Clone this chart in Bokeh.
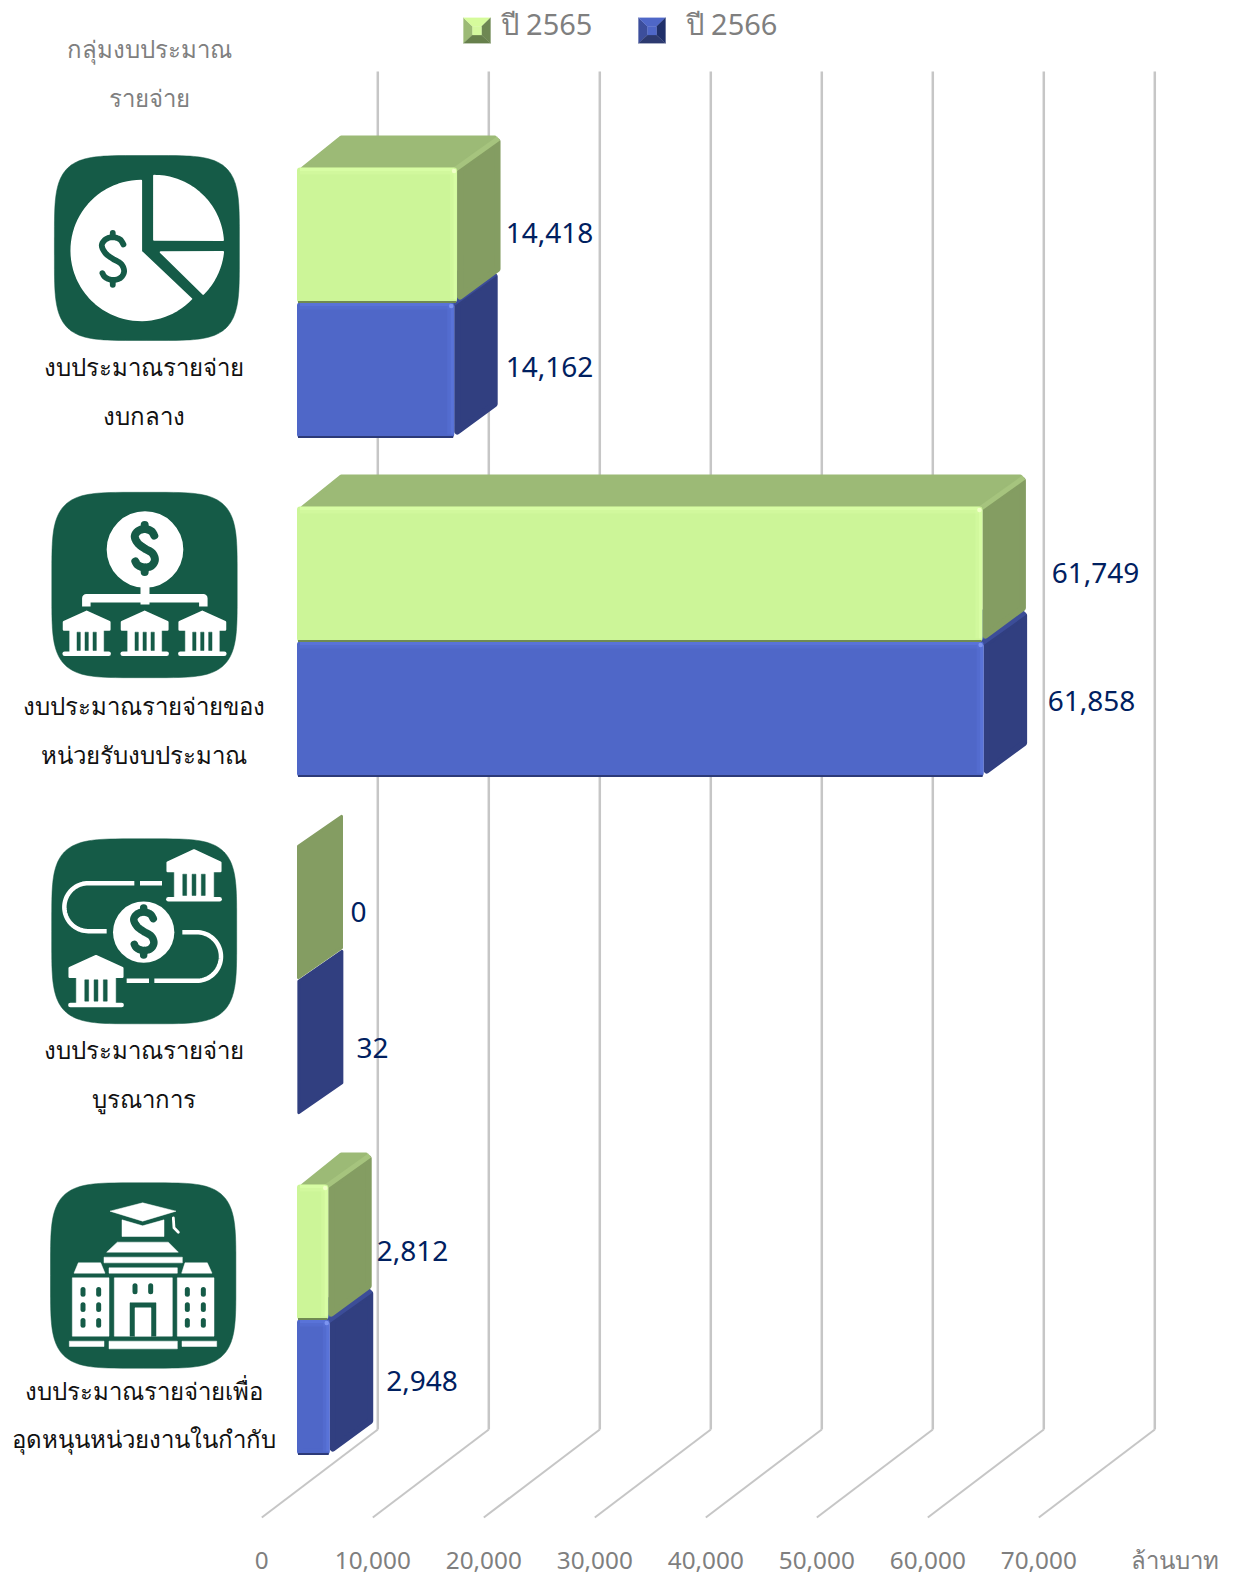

import math
from bokeh.plotting import figure
from bokeh.embed import file_html
from bokeh.resources import INLINE
from bokeh.models import Range1d, LinearAxis, FixedTicker, NumeralTickFormatter
from bokeh.core.properties import value

# ---------- data ----------
category_line1 = ["งบประมาณรายจ่าย", "งบประมาณรายจ่ายของ", "งบประมาณรายจ่าย", "งบประมาณรายจ่ายเพื่อ"]
category_line2 = ["งบกลาง", "หน่วยรับงบประมาณ", "บูรณาการ", "อุดหนุนหน่วยงานในกำกับ"]
series_names = ["ปี 2565", "ปี 2566"]
values_2565 = [14418, 61749, 0, 2812]
values_2566 = [14162, 61858, 32, 2948]
axis_ticks = [0, 10000, 20000, 30000, 40000, 50000, 60000, 70000]
axis_title_left = ["กลุ่มงบประมาณ", "รายจ่าย"]
axis_unit = "ล้านบาท"

# ---------- layout (reference pixels) ----------
W, H = 1238, 1575
S = 0.0111            # px per million baht
BACK0 = 377.3         # px of value 0 on the back wall
FRONT0 = 261.3        # px of value 0 on the floor's front edge
BAR0 = 296.5          # px of value 0 on a bar's front face
GRID_TOP, GRID_BACK, GRID_FRONT = 71, 1429, 1517
BAR_TOP0, BAR_PITCH, BAR_H = 167, 339, 135
DEPTH_Y = -32

GREEN = dict(front="#CCF598", top="#9CBA76", side="#849D62", hi="#DAFFA6", low="#6F8A52", edge="#A6C47E", spot="#F0FFC8")
BLUE = dict(front="#4F67C8", top="#4A5FB0", side="#313F80", hi="#5C76DC", low="#2C3A78", edge="#3C4D98", spot="#7C94F0")
ICON = "#155B47"
GREY = "#7F7F7F"
NAVY = "#002060"
GRID = "#C6C6C6"
SANS = value("Noto Sans")

p = figure(width=W, height=H, output_backend="svg", toolbar_location=None,
           x_range=Range1d((0 - BACK0) / S, (W - BACK0) / S),
           y_range=Range1d(H, 0),
           x_axis_location=None, y_axis_location=None,
           min_border=0, outline_line_color=None, background_fill_color="white",
           border_fill_color="white")
p.grid.visible = False
p.extra_x_ranges["px"] = Range1d(0, W)
p.extra_x_ranges["front"] = Range1d((0 - FRONT0) / S, (W - FRONT0) / S)


def off(px):
    """A px shift expressed in value units."""
    return px / S


# ---------- gridlines ----------
for t in axis_ticks:
    p.line([t, t], [GRID_TOP, GRID_BACK], line_color=GRID, line_width=2.5)
    p.line([t, t - off(BACK0 - FRONT0)], [GRID_BACK, GRID_FRONT], line_color=GRID, line_width=2)

# ---------- axis ----------
ax = LinearAxis(x_range_name="front", ticker=FixedTicker(ticks=axis_ticks),
                formatter=NumeralTickFormatter(format="0,0"), fixed_location=1551)
ax.axis_line_color = None
ax.major_tick_line_color = None
ax.minor_tick_line_color = None
ax.major_tick_in = 0
ax.major_tick_out = 0
ax.major_label_standoff = 0
ax.major_label_text_font = "Noto Sans"
ax.major_label_text_font_size = "24.3px"
ax.major_label_text_color = GREY
p.add_layout(ax, "below")


# ---------- bars ----------
def inset(xs, ys, r):
    """Shrink a convex polygon by r px (xs in value units)."""
    pts = [(x * S, y) for x, y in zip(xs, ys)]
    n = len(pts)
    area = sum(pts[i][0] * pts[(i + 1) % n][1] - pts[(i + 1) % n][0] * pts[i][1] for i in range(n))
    sg = 1 if area > 0 else -1
    lines = []
    for i in range(n):
        (x0, y0), (x1, y1) = pts[i], pts[(i + 1) % n]
        L = math.hypot(x1 - x0, y1 - y0) or 1
        nx, ny = -(y1 - y0) / L * sg, (x1 - x0) / L * sg
        lines.append((x0 + nx * r, y0 + ny * r, x1 - x0, y1 - y0))
    out = []
    for i in range(n):
        a, b = lines[i - 1], lines[i]
        d = a[2] * b[3] - a[3] * b[2]
        t = ((b[0] - a[0]) * b[3] - (b[1] - a[1]) * b[2]) / d
        out.append(((a[0] + a[2] * t) / S, a[1] + a[3] * t))
    return [q[0] for q in out], [q[1] for q in out]


def face(xs, ys, color, r=3):
    ix, iy = inset(xs, ys, r)
    p.patch(ix, iy, fill_color=color, line_color=color, line_width=2 * r, line_join="round")


def bar(i, row, v, c):
    base = off(BAR0 - BACK0)
    top = BAR_TOP0 + BAR_PITCH * i + row * BAR_H
    bot = top + BAR_H
    xr = base + v
    thin = v * S < 1
    dx = off(46 if thin else 43.5)
    # side
    face([xr, xr + dx, xr + dx, xr], [top, top + DEPTH_Y, bot + DEPTH_Y, bot], c["side"], 1.5 if thin else 3)
    if thin:
        return
    # top: its edges reach under the front face so that no notch shows at the left corner
    face([base, base + dx, xr + dx, xr], [top + 3, top + DEPTH_Y, top + DEPTH_Y, top + 3], c["top"], 2)
    p.line([xr - off(2), xr + dx - off(2)], [top + 2, top + DEPTH_Y + 3], line_color=c["edge"], line_width=5)
    # front with a soft bevel
    face([base, xr, xr, base], [top, top, bot, bot], c["front"])
    p.line([base + off(3), xr - off(3)], [top + 3.5, top + 3.5], line_color=c["hi"], line_width=7, line_alpha=0.35)
    p.line([base + off(3), xr - off(3)], [top + 2, top + 2], line_color=c["hi"], line_width=3, line_alpha=0.7)
    p.line([xr - off(3.5), xr - off(3.5)], [top + 3, bot - 3], line_color=c["hi"], line_width=7, line_alpha=0.35)
    p.line([xr - off(2), xr - off(2)], [top + 3, bot - 3], line_color=c["hi"], line_width=3, line_alpha=0.7)
    p.scatter([xr - off(3)], [top + 3.5], size=4.5, marker="circle", fill_color=c["spot"], line_color=None)
    p.line([base + off(1), xr - off(1)], [bot - 0.5, bot - 0.5], line_color=c["low"], line_width=2)


for i, (a, b) in enumerate(zip(values_2565, values_2566)):
    bar(i, 1, b, BLUE)
    bar(i, 0, a, GREEN)

# ---------- value labels ----------
label_x = [[549, 1095, 358, 412], [549, 1091, 372, 421.6]]
label_y = [[232.5, 572, 911, 1250], [366, 700, 1047, 1380.5]]
for k, vals in enumerate([values_2565, values_2566]):
    p.text(label_x[k], label_y[k], text=[f"{v:,}" for v in vals], x_range_name="px",
           text_color=NAVY, text_font=SANS, text_font_size="28px",
           text_align="center", text_baseline="middle")

# ---------- category labels ----------
cat_x = 143.5
cat_y1 = [366, 705, 1049, 1390]
cat_y2 = [414.5, 754, 1098, 1438]
p.text([cat_x] * 4, cat_y1, text=category_line1, x_range_name="px", text_color="#111111", text_font=SANS,
       text_font_size="24px", text_align="center", text_baseline="middle")
p.text([cat_x] * 4, cat_y2, text=category_line2, x_range_name="px", text_color="#111111", text_font=SANS,
       text_font_size="24px", text_align="center", text_baseline="middle")
p.text([149, 149], [48, 97], text=axis_title_left, x_range_name="px", text_color=GREY, text_font=SANS,
       text_font_size="24px", text_align="center", text_baseline="middle")
p.text([1174.5], [1558.5], text=[axis_unit], x_range_name="px", text_color=GREY, text_font=SANS,
       text_font_size="24px", text_align="center", text_baseline="middle")

# ---------- legend ----------
def swatch(x0, colors, cx0, cx1):
    y0, y1 = 17.3, 42.7
    x1 = x0 + 27
    cy0, cy1 = 26, 34.5
    pts = {"l": ([x0, cx0, cx0, x0], [y0, cy0, cy1, y1]),
           "t": ([x0, x1, cx1, cx0], [y0, y0, cy0, cy0]),
           "r": ([x1, x1, cx1, cx1], [y0, y1, cy1, cy0]),
           "b": ([x0, x1, cx1, cx0], [y1, y1, cy1, cy1]),
           "c": ([cx0, cx1, cx1, cx0], [cy0, cy0, cy1, cy1])}
    for k, (xs, ys) in pts.items():
        p.patch(xs, ys, fill_color=colors[k], line_color=colors[k], line_width=0.3, x_range_name="px")


swatch(463, dict(l="#9CBA76", t="#D6FB9C", r="#6E8752", b="#67804C", c="#D4F89E"), 472, 481)
swatch(638, dict(l="#3C4E9C", t="#4F67C8", r="#20306A", b="#2D3A70", c="#4F67C8"), 647, 656)
p.text([500, 685], [23, 23], text=series_names, x_range_name="px", text_color=GREY, text_font=SANS,
       text_font_size="29px", text_align="left", text_baseline="middle")


# ---------- icons: coordinates are in a local grid, 3 units per px ----------
def tr(ox, oy, pts):
    return [ox + a / 3 for a, _ in pts], [oy + b / 3 for _, b in pts]


def poly(ox, oy, pts, color="white", lw=0.5):
    xs, ys = tr(ox, oy, pts)
    p.patch(xs, ys, fill_color=color, line_color=color, line_width=lw, line_join="round", x_range_name="px")


def stroke(ox, oy, pts, color="white", lw=4.5, cap="round"):
    xs, ys = tr(ox, oy, pts)
    p.line(xs, ys, line_color=color, line_width=lw, line_cap=cap, line_join="round", x_range_name="px")


def arc_pts(cx, cy, r, a0, a1, n=40):
    return [(cx + r * math.cos(math.radians(a0 + (a1 - a0) * j / n)),
             cy + r * math.sin(math.radians(a0 + (a1 - a0) * j / n))) for j in range(n + 1)]


def squircle(cx, cy, half, n=4.6):
    pts = []
    for j in range(180):
        t = 2 * math.pi * j / 180
        c, s_ = math.cos(t), math.sin(t)
        pts.append((cx + half * math.copysign(abs(c) ** (2 / n), c),
                    cy + half * math.copysign(abs(s_) ** (2 / n), s_)))
    xs = [q[0] for q in pts]
    ys = [q[1] for q in pts]
    p.patch(xs, ys, fill_color=ICON, line_color=ICON, line_width=0.5, x_range_name="px")


S_CURVE = [(32, -43), (22, -58), (0, -65), (-22, -58), (-33, -40), (-22, -17), (0, 0), (25, 15), (34, 38),
           (22, 58), (-3, 63), (-23, 55), (-31, 43)]


def dollar(ox, oy, cx, cy, k, color=ICON, lw=5.0):
    smooth = []
    # Catmull-Rom sampling of the S shape
    P = [S_CURVE[0]] + S_CURVE + [S_CURVE[-1]]
    for j in range(1, len(P) - 2):
        for t in [m / 6 for m in range(6)]:
            q = []
            for d in (0, 1):
                a, b, c, e = P[j - 1][d], P[j][d], P[j + 1][d], P[j + 2][d]
                q.append(0.5 * (2 * b + (c - a) * t + (2 * a - 5 * b + 4 * c - e) * t * t + (3 * b - a - 3 * c + e) * t ** 3))
            smooth.append((cx + k * q[0], cy + k * q[1]))
    smooth.append((cx + k * S_CURVE[-1][0], cy + k * S_CURVE[-1][1]))
    stroke(ox, oy, smooth, color, lw)
    stroke(ox, oy, [(cx, cy - 78 * k), (cx, cy - 66 * k)], color, lw)
    stroke(ox, oy, [(cx, cy + 64 * k), (cx, cy + 78 * k)], color, lw)


def bank(ox, oy, cx, top, k):
    w = 68 * k
    poly(ox, oy, [(cx - w, top + 33 * k), (cx, top + 2), (cx + w, top + 33 * k), (cx + w, top + 55 * k), (cx - w, top + 55 * k)], lw=2.5)
    poly(ox, oy, [(cx - 51 * k, top + 55 * k), (cx + 51 * k, top + 55 * k), (cx + 51 * k, top + 124 * k), (cx - 51 * k, top + 124 * k)])
    for d in (-24, 0, 24):
        poly(ox, oy, [(cx + (d - 5) * k, top + 63 * k), (cx + (d + 5) * k, top + 63 * k),
                      (cx + (d + 5) * k, top + 118 * k), (cx + (d - 5) * k, top + 118 * k)], ICON)
    stroke(ox, oy, [(cx - w + 2, top + 128 * k), (cx + w - 2, top + 128 * k)], "white", 4.5)


# icon 1: pie chart
squircle(146.4, 247.5, 92.5)
ox, oy = 39.6, 145
poly(ox, oy, arc_pts(303, 315, 209, -90, -270 - 46 + 0, 60)[:] + [(303, 318)], lw=2)
poly(ox, oy, [(342, 283)] + arc_pts(342, 298, 207, -90, -4), lw=2)
poly(ox, oy, [(362, 320)] + arc_pts(342, 298, 208, 6, 45), lw=2)
dollar(ox, oy, 218, 340, 1.0, ICON, 5.8)

# icon 2: hub and three banks
squircle(144, 584.5, 92.7)
ox, oy = -0.5, 470
xs, ys = tr(ox, oy, [(435, 237)])
p.scatter(xs, ys, size=230 / 3 * 1.0, marker="circle", fill_color="white", line_color=None, x_range_name="px")
dollar(ox, oy, 434, 234, 0.9, ICON, 8)
stroke(ox, oy, [(435, 340), (435, 402)], "white", 9, "butt")
stroke(ox, oy, [(259, 408), (259, 383), (610, 383), (610, 408)], "white", 8.5, "butt")
for cx in (260, 434, 607):
    bank(ox, oy, cx, 422, 1.0)

# icon 3: transfer between banks
squircle(143.7, 930.8, 92.5)
ox, oy = -0.5, 800
xs, ys = tr(ox, oy, [(431, 395)])
p.scatter(xs, ys, size=184 / 3, marker="circle", fill_color="white", line_color=None, x_range_name="px")
dollar(ox, oy, 431, 393, 0.9, ICON, 7.5)
bank(ox, oy, 582, 148, 1.16)
bank(ox, oy, 288, 465, 1.16)
stroke(ox, oy, [(420, 248), (486, 248)], "white", 4.5, "butt")
stroke(ox, oy, [(403, 248)] + arc_pts(265, 320, 72, -90, -270) + [(320, 392)], "white", 4.5, "butt")
stroke(ox, oy, [(547, 395)] + arc_pts(590, 468, 73, -90, 90) + [(463, 541)], "white", 4.5, "butt")
stroke(ox, oy, [(447, 541), (380, 541)], "white", 4.5, "butt")

# icon 4: university
squircle(142.7, 1275, 92.7)
ox, oy = -0.5, 1140
poly(ox, oy, [(330, 212), (428, 187), (528, 212), (428, 242)])
poly(ox, oy, [(366, 238), (428, 256), (492, 238), (492, 288), (366, 288)])
stroke(ox, oy, [(520, 232), (522, 262), (535, 275)], "white", 2.8)
poly(ox, oy, [(320, 335), (352, 305), (505, 305), (535, 335)])
for box in [(312, 350, 547, 367), (327, 382, 532, 398), (208, 602, 312, 618), (327, 602, 532, 625), (546, 602, 650, 618),
            (343, 412, 517, 587), (217, 412, 327, 587), (532, 412, 642, 587)]:
    poly(ox, oy, [(box[0], box[1]), (box[2], box[1]), (box[2], box[3]), (box[0], box[3])])
poly(ox, oy, [(222, 398), (235, 367), (302, 367), (315, 398)])
poly(ox, oy, [(545, 398), (555, 367), (622, 367), (636, 398)])
poly(ox, oy, [(390, 587), (390, 487), (468, 487), (468, 587)], ICON)
poly(ox, oy, [(405, 587), (405, 502), (453, 502), (453, 587)], "white")
for wx in (405, 452):
    stroke(ox, oy, [(wx, 436), (wx, 454)], ICON, 5)
for wx in (249, 296, 562, 610):
    for wy in (447, 493, 540):
        stroke(ox, oy, [(wx, wy), (wx, wy + 14)], ICON, 5)

open("out.html", "w").write(file_html(p, INLINE))
